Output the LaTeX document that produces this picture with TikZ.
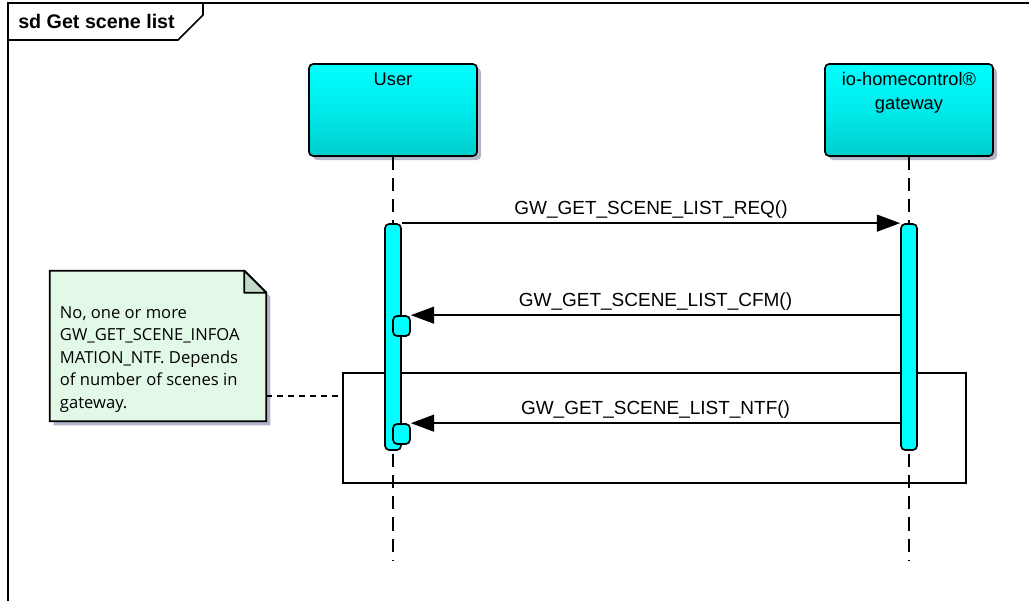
\documentclass[tikz,border=0pt]{standalone}
\usepackage{fontspec}
\setmainfont{Liberation Sans}
\newfontfamily\notefont{Open Sans}
\usepackage{tikz}
\usetikzlibrary{arrows.meta, positioning, shadows}
\definecolor{headtop}{RGB}{0,255,255}
\definecolor{headbot}{RGB}{0,204,204}
\definecolor{actcol}{RGB}{0,255,255}
\definecolor{shadowcol}{RGB}{178,182,200}
\definecolor{notecol}{RGB}{227,249,231}
\definecolor{foldcol}{RGB}{193,217,201}
\tikzset{
  frame/.style={line width=1.2pt},
  sdtitle/.style={font=\bfseries\fontsize{14}{17}\selectfont, inner sep=0pt},
  head/.style={draw, line width=1.2pt, rounded corners=3pt, minimum width=4.2cm, minimum height=2.3cm, top color=headtop, bottom color=headbot, middle color=headtop!60!headbot, drop shadow={shadow xshift=0.1cm, shadow yshift=-0.1cm, fill=shadowcol, opacity=1}},
  headtext/.style={font=\fontsize{13}{17}\selectfont, align=center, inner sep=0pt},
  lifeline/.style={line width=1.2pt, dash pattern=on 0.33cm off 0.2cm},
  act/.style={draw, line width=1.2pt, fill=actcol, rounded corners=3pt, minimum width=0.4cm, inner sep=0pt},
  msg/.style={line width=1.2pt, -{Triangle[length=0.58cm, width=0.42cm]}},
  msglabel/.style={font=\fontsize{13.5}{16}\selectfont, inner sep=2.5pt},
  fragment/.style={draw, line width=1.2pt, minimum width=15.575cm, minimum height=2.75cm},
  notetext/.style={font=\notefont\fontsize{11.8}{16.1}\selectfont, align=left, inner sep=0pt},
  notelink/.style={line width=0.9pt, dash pattern=on 0.15cm off 0.125cm}
}

\begin{document}
\begin{tikzpicture}[x=0.025cm, y=-0.025cm]
\useasboundingbox (0,0) rectangle (1029,601);
% frame and title tab
\draw[frame] (8,601) |- (1029,3);
\draw[frame] (8,40) -- (178,40) -- (203,15) -- (203,3);
\node[sdtitle, anchor=west] (title) at (18,21) {sd Get scene list};
% combined fragment
\node[fragment] (loopfrag) at (654.5,428) {};
% lifelines
\node[head] (user) at (393,110) {};
\node[head] (gw) at (909,110) {};
\node[headtext, below=0.225cm of user.north] (userlbl) {User};
\node[headtext, below=0.225cm of gw.north] (gwlbl) {io-homecontrol®\\gateway};
\coordinate (userend) at (393,561);
\coordinate (gwend) at (909,561);
\draw[lifeline] (user.south) -- (userend);
\draw[lifeline] (gw.south) -- (gwend);
% activations
\node[act, minimum height=5.65cm] (useract) at (393,337) {};
\node[act, minimum height=5.65cm] (gwact) at (909,337) {};
\node[act, minimum width=0.425cm, minimum height=0.5cm] (cfmact) at (401.5,326) {};
\node[act, minimum width=0.425cm, minimum height=0.5cm] (ntfact) at (401.5,434) {};
% messages
\draw[msg] (useract.north east) -- node[msglabel, above] (reqlbl) {GW\_GET\_SCENE\_LIST\_REQ()} (gwact.north west);
\draw[msg] (gwact.west |- cfmact.north) -- node[msglabel, above] (cfmlbl) {GW\_GET\_SCENE\_LIST\_CFM()} (cfmact.north east);
\draw[msg] (gwact.west |- ntfact.north) -- node[msglabel, above] (ntflbl) {GW\_GET\_SCENE\_LIST\_NTF()} (ntfact.north east);
% note
\node[minimum width=5.4cm, minimum height=3.75cm, inner sep=0pt] (notebox) at (158,346) {};
\fill[shadowcol, transform canvas={xshift=0.1cm, yshift=-0.1cm}] (notebox.south west) -- (notebox.north west) -- ([xshift=-0.55cm]notebox.north east) -- ([yshift=-0.55cm]notebox.north east) -- (notebox.south east) -- cycle;
\draw[line width=1.2pt, fill=notecol] (notebox.south west) -- (notebox.north west) -- ([xshift=-0.55cm]notebox.north east) -- ([yshift=-0.55cm]notebox.north east) -- (notebox.south east) -- cycle;
\draw[line width=1.2pt, fill=foldcol, line join=round] ([xshift=-0.55cm]notebox.north east) -- ([xshift=-0.55cm, yshift=-0.55cm]notebox.north east) -- ([yshift=-0.55cm]notebox.north east) -- cycle;
\node[notetext, below right=0.88cm and 0.25cm of notebox.north west] (note) {No, one or more\\GW\_GET\_SCENE\_INFOA\\MATION\_NTF. Depends\\of number of scenes in\\gateway.};
\draw[notelink] ([yshift=-1.25cm]notebox.east) -- ([yshift=-1.25cm]notebox.east -| loopfrag.west);
\end{tikzpicture}
\end{document}
